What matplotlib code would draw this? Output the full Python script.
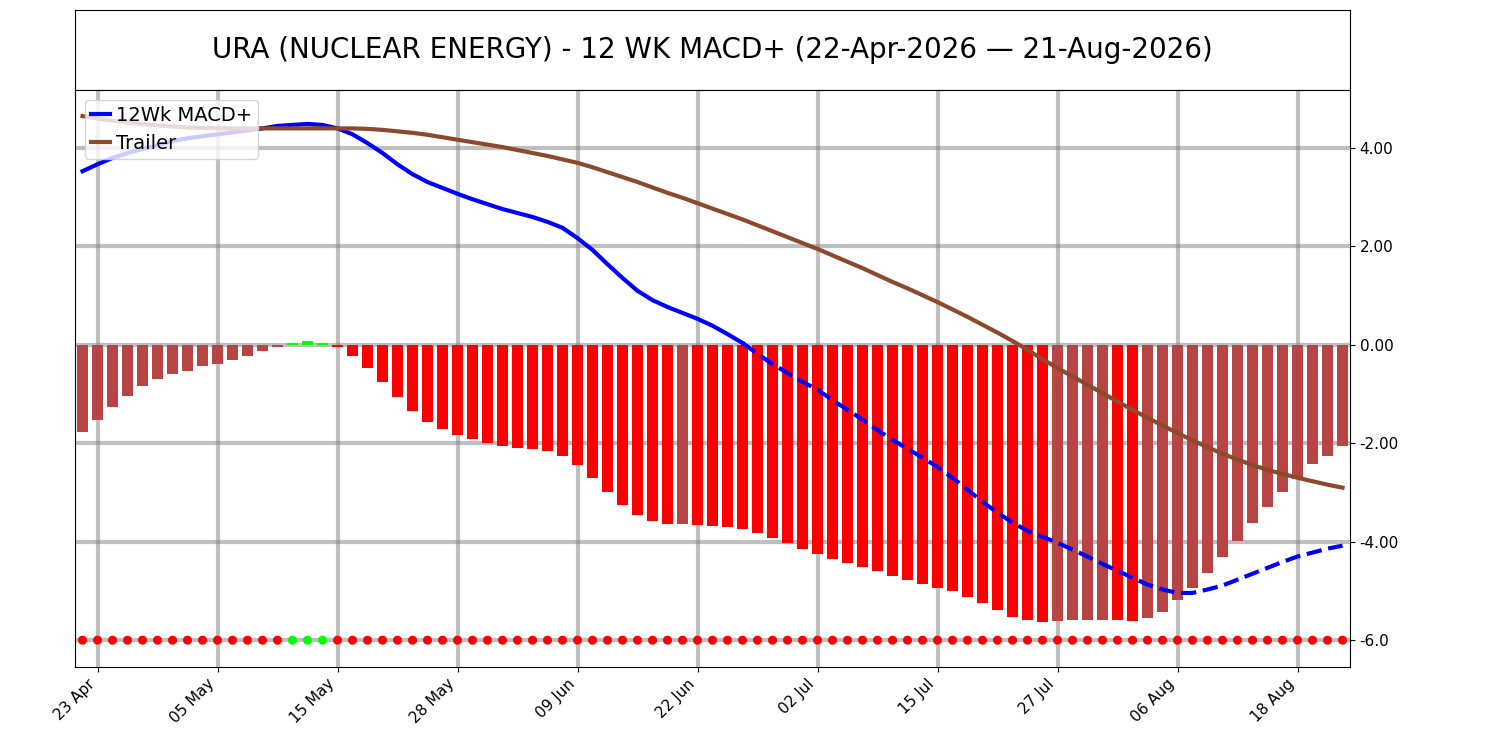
import numpy as np
import pandas as pd
import matplotlib
matplotlib.use("Agg")
import matplotlib.pyplot as plt

# trading days 22-Apr-2026 .. 21-Aug-2026 (US holidays dropped)
dates = pd.bdate_range("2026-04-22", "2026-08-21")
dates = dates[~dates.isin(pd.to_datetime(["2026-05-25", "2026-06-19", "2026-07-03"]))]

hist = [-1.77, -1.52, -1.26, -1.04, -0.83, -0.69, -0.59, -0.53, -0.43, -0.39,
        -0.30, -0.22, -0.12, -0.04, 0.03, 0.08, 0.04, -0.05, -0.22, -0.47,
        -0.75, -1.06, -1.34, -1.56, -1.71, -1.83, -1.91, -1.99, -2.05, -2.09,
        -2.11, -2.15, -2.25, -2.44, -2.70, -2.98, -3.25, -3.45, -3.57, -3.63,
        -3.63, -3.65, -3.67, -3.71, -3.75, -3.82, -3.92, -4.02, -4.14, -4.24,
        -4.35, -4.43, -4.51, -4.59, -4.69, -4.77, -4.85, -4.93, -5.01, -5.12,
        -5.24, -5.38, -5.52, -5.60, -5.64, -5.62, -5.60, -5.58, -5.58, -5.60,
        -5.62, -5.54, -5.42, -5.18, -4.93, -4.63, -4.30, -3.98, -3.61, -3.29,
        -2.98, -2.72, -2.42, -2.25, -2.05]

macd = [3.53, 3.67, 3.80, 3.90, 3.98, 4.06, 4.14, 4.20, 4.24, 4.28,
        4.32, 4.36, 4.40, 4.45, 4.47, 4.49, 4.47, 4.40, 4.28, 4.10,
        3.90, 3.67, 3.47, 3.31, 3.19, 3.07, 2.96, 2.86, 2.76, 2.68,
        2.60, 2.50, 2.38, 2.17, 1.93, 1.64, 1.36, 1.10, 0.91, 0.77,
        0.65, 0.53, 0.39, 0.22, 0.04, -0.18, -0.39, -0.57, -0.75, -0.91,
        -1.12, -1.32, -1.52, -1.73, -1.93, -2.11, -2.29, -2.48, -2.70, -2.94,
        -3.19, -3.41, -3.61, -3.78, -3.90, -4.02, -4.16, -4.30, -4.45, -4.59,
        -4.73, -4.87, -4.97, -5.04, -5.04, -4.97, -4.89, -4.77, -4.65, -4.53,
        -4.41, -4.30, -4.22, -4.14, -4.08]

trailer = [4.65, 4.60, 4.56, 4.52, 4.49, 4.46, 4.44, 4.42, 4.41, 4.40,
           4.40, 4.40, 4.40, 4.40, 4.40, 4.40, 4.40, 4.40, 4.40, 4.39,
           4.37, 4.34, 4.31, 4.27, 4.22, 4.17, 4.12, 4.07, 4.02, 3.96,
           3.90, 3.84, 3.77, 3.70, 3.61, 3.51, 3.41, 3.31, 3.20, 3.09,
           2.99, 2.88, 2.77, 2.66, 2.55, 2.43, 2.31, 2.19, 2.07, 1.95,
           1.82, 1.69, 1.56, 1.42, 1.28, 1.15, 1.01, 0.87, 0.72, 0.57,
           0.41, 0.25, 0.08, -0.10, -0.29, -0.47, -0.64, -0.81, -0.98, -1.15,
           -1.32, -1.48, -1.64, -1.79, -1.94, -2.08, -2.21, -2.33, -2.44, -2.54,
           -2.62, -2.70, -2.77, -2.84, -2.90]

title = "URA (NUCLEAR ENERGY) - 12 WK MACD+ (22-Apr-2026 \u2014 21-Aug-2026)"

x = np.arange(len(hist))
hist = np.array(hist)
macd = np.array(macd)

# bar colours: green above zero, red when falling, muted red when rising
prev = np.concatenate(([hist[0] - 1], hist[:-1]))
bar_cols = np.where(hist > 0, "lime", np.where(hist < prev, "red", "#b94444"))
dot_cols = np.where(hist > 0, "lime", "red")

fig = plt.figure(figsize=(15, 7.5), dpi=100)
tax = fig.add_axes([0.05, 0.88, 0.85, 0.107])
tax.set_xticks([]); tax.set_yticks([])
tax.text(0.5, 0.5, title, ha="center", va="center", fontsize=20, transform=tax.transAxes)

ax = fig.add_axes([0.05, 0.111, 0.85, 0.769])
ax.bar(x, hist, width=0.68, color=bar_cols, zorder=2)
ax.scatter(x, np.full(len(x), -6.0), color=dot_cols, s=30, zorder=3)

above = np.where(macd >= 0, macd, np.nan)
below = np.where(macd <= 0.05, macd, np.nan)
ax.plot(x, above, color="blue", lw=3, label="12Wk MACD+", zorder=4)
ax.plot(x, below, color="blue", lw=3, ls="--", zorder=4)
ax.plot(x, trailer, color="#8b4a2b", lw=3, label="Trailer", zorder=4)

ax.set_xlim(-0.5, 84.5)
ax.set_ylim(-6.54, 5.18)
ax.yaxis.tick_right()
yt = [4, 2, 0, -2, -4, -6]
ax.set_yticks(yt)
ax.set_yticklabels(["%.2f" % v for v in yt[:-1]] + ["-6.0"], fontsize=11)
ticks = list(range(1, len(x), 8))
ax.set_xticks(ticks)
ax.set_xticklabels([dates[i].strftime("%d %b") for i in ticks], rotation=45, ha="right", fontsize=11)
ax.grid(True, color="grey", alpha=0.5, lw=3, zorder=0)
ax.set_axisbelow(True)
ax.legend(loc="upper left", fontsize=14, borderaxespad=0.5, handlelength=1.0, handletextpad=0.3, borderpad=0.3)

fig.savefig("out.png")
